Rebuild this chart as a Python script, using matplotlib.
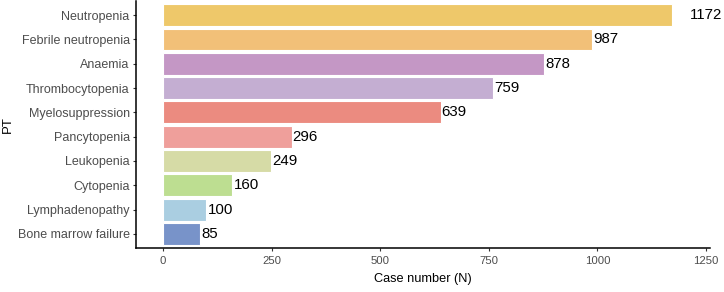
import matplotlib
matplotlib.use("Agg")
import matplotlib.pyplot as plt

plt.rcParams['font.family'] = ['Liberation Sans', 'DejaVu Sans']

# data (top to bottom)
terms = ['Neutropenia', 'Febrile neutropenia', 'Anaemia', 'Thrombocytopenia',
         'Myelosuppression', 'Pancytopenia', 'Leukopenia', 'Cytopenia',
         'Lymphadenopathy', 'Bone marrow failure']
counts = [1172, 987, 878, 759, 639, 296, 249, 160, 100, 85]
colors = ['#EEC86A', '#F2C078', '#C497C5', '#C4AED2', '#EB8B80',
          '#EF9F9B', '#D6DBA6', '#BDDE91', '#AACEE1', '#7893C9']
xticks = [0, 250, 500, 750, 1000, 1250]

fig = plt.figure(figsize=(7.24, 2.92), dpi=100)
ax = fig.add_axes([0.1878, 0.149, 0.7929, 0.849])

ypos = list(range(len(terms)))[::-1]
ax.barh(ypos, counts, height=0.9, color=colors, edgecolor='white', linewidth=0.8)

for y, c in zip(ypos, counts):
    off = 13 if c == max(counts) else 0.8
    ax.annotate(str(c), (c, y), xytext=(off, 0), textcoords='offset points',
                va='center', ha='left', fontsize=10.8, color='black')

ax.set_yticks(ypos)
ax.set_yticklabels(terms, fontsize=9)
ax.set_xticks(xticks)
ax.set_xlim(-62, 1259)
ax.set_ylim(-0.6, len(terms) - 0.4)

ax.set_xlabel('Case number (N)', fontsize=9.2, color='black', labelpad=5)
ax.set_ylabel('PT', fontsize=9.5, color='black', labelpad=3)

for s in ['top', 'right']:
    ax.spines[s].set_visible(False)
for s in ['left', 'bottom']:
    ax.spines[s].set_linewidth(1.1)
    ax.spines[s].set_color('black')
ax.tick_params(axis='both', colors='#333333', labelcolor='#4D4D4D',
               length=2.5, width=0.8, pad=2)
ax.tick_params(axis='x', labelsize=8.2, pad=3)

fig.savefig('out.png', dpi=100)
